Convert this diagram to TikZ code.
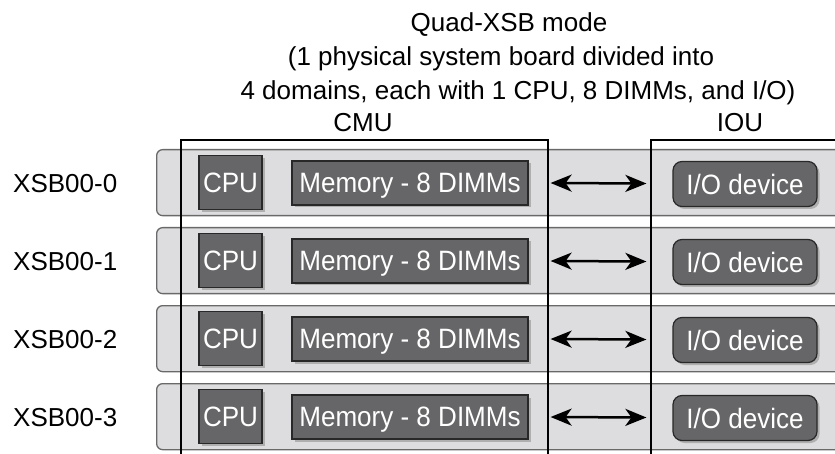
\documentclass[tikz,border=0pt]{standalone}
\usepackage{fontspec}
\setmainfont{Liberation Sans}
\newfontfamily\boxfont[FakeStretch=0.93]{Liberation Sans}
\usetikzlibrary{shadows,arrows.meta}
\definecolor{boardfill}{RGB}{221,221,223}
\definecolor{boardline}{RGB}{105,105,105}
\definecolor{darkfill}{RGB}{102,102,104}
\definecolor{darkline}{RGB}{40,40,40}
\definecolor{shadowc}{RGB}{175,175,175}
\begin{document}
\begin{tikzpicture}[x=1pt,y=-1pt,
  every node/.style={font=\fontsize{26}{30}\selectfont, inner sep=0pt},
  board/.style={draw=boardline, fill=boardfill, line width=1.3pt, rounded corners=6pt, minimum width=720pt, minimum height=66pt, anchor=north west},
  darkbox/.style={draw=darkline, fill=darkfill, line width=1.2pt, text=white, text depth=0pt,
    font=\boxfont\fontsize{28}{32}\selectfont,
    drop shadow={shadow xshift=2.5pt, shadow yshift=-2.5pt, fill=shadowc, opacity=1}},
  cpubox/.style={darkbox, minimum width=63pt, minimum height=54pt},
  membox/.style={darkbox, minimum width=236pt, minimum height=44pt},
  iobox/.style={darkbox, rounded corners=9pt, minimum width=144pt, minimum height=45pt},
  frame/.style={draw=black, line width=2pt},
  biarrow/.style={line width=2.5pt, {Stealth[length=21pt,width=17pt,inset=6pt]}-{Stealth[length=21pt,width=17pt,inset=6pt]}},
  lbl/.style={anchor=base}
]
\useasboundingbox (0,0) rectangle (835,454);
\clip (0,0) rectangle (835,454);
\fill[white] (0,0) rectangle (835,454);
% title
\node[lbl] (t1) at (509,32) {Quad-XSB mode};
\node[lbl] (t2) at (501,66) {(1 physical system board divided into};
\node[lbl] (t3) at (518,100) {4 domains, each with 1 CPU, 8 DIMMs, and I/O)};
\node[lbl] (cmu) at (363,132) {CMU};
\node[lbl] (iou) at (740,132) {IOU};
% boards
\foreach \i/\t in {0/149,1/227,2/305,3/383}{
  \pgfmathsetmacro{\c}{\t+33.5}
  \node[board] (b\i) at (156,\t) {};
  \node[anchor=base west] (x\i) at (13,\c+10) {XSB00-\i};
  \node[cpubox] (cpu\i) at (230.5,\c) {CPU};
  \node[membox] (mem\i) at (410,\c+0.5) {Memory - 8 DIMMs};
  \node[iobox] (io\i) at (745,\c+1.5) {I/O device};
}
% frames
\draw[frame] (181,470) -- (181,140) -- (548,140) -- (548,470);
\draw[frame] (651,470) -- (651,140) -- (860,140);
% arrows
\foreach \i in {0,1,2,3}{
  \draw[biarrow] ([xshift=22pt]mem\i.east) -- ([xshift=-26pt,yshift=0.5pt]io\i.west);
}
\end{tikzpicture}
\end{document}
